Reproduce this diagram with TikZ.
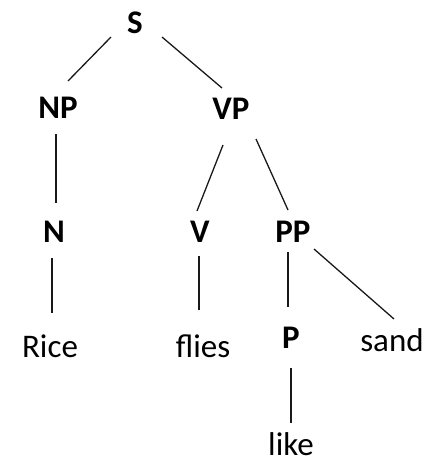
\documentclass[tikz,border=0pt]{standalone}
\usepackage{fontspec}
\setmainfont{Carlito}
\begin{document}
\begin{tikzpicture}[x=1pt,y=-1pt,
  cat/.style={anchor=base,inner sep=0pt,font=\fontsize{33}{39}\selectfont\bfseries},
  word/.style={anchor=base,inner sep=0pt,font=\fontsize{33}{39}\selectfont},
  branch/.style={line width=1.3pt,black!90}]
\useasboundingbox (0,0) rectangle (445,459);
% phrase and word nodes (placed at their baselines)
\node[cat]  (S)    at (135,33)  {S};
\node[cat]  (NP)   at (58,118)  {NP};
\node[cat]  (VP)   at (231,119) {VP};
\node[cat]  (N)    at (54,242)  {N};
\node[cat]  (V)    at (200,242) {V};
\node[cat]  (PP)   at (293,242) {PP};
\node[word] (Rice) at (50,357)  {Rice};
\node[word] (flies) at (203,357) {flies};
\node[cat]  (P)    at (291,348) {P};
\node[word] (sand) at (392,351) {sand};
\node[word] (like) at (291,455) {like};
% branches
\draw[branch] ([shift={(-24,4)}]S.base) -- ([shift={(10,-37)}]NP.base);
\draw[branch] ([shift={(27,4)}]S.base) -- ([shift={(-9,-31)}]VP.base);
\draw[branch] ([shift={(-2,16)}]NP.base) -- ([shift={(2,-39)}]N.base);
\draw[branch] ([shift={(-8,26)}]VP.base) -- ([shift={(-3,-31)}]V.base);
\draw[branch] ([shift={(25,20)}]VP.base) -- ([shift={(-5,-32)}]PP.base);
\draw[branch] ([shift={(-2,16)}]N.base) -- ([shift={(2,-44)}]Rice.base);
\draw[branch] ([shift={(-1,14)}]V.base) -- ([shift={(-4,-47)}]flies.base);
\draw[branch] ([shift={(-5,10)}]PP.base) -- ([shift={(-3,-41)}]P.base);
\draw[branch] ([shift={(21,7)}]PP.base) -- ([shift={(2,-32)}]sand.base);
\draw[branch] ([shift={(0,20)}]P.base) -- ([shift={(0,-32)}]like.base);
\end{tikzpicture}
\end{document}
